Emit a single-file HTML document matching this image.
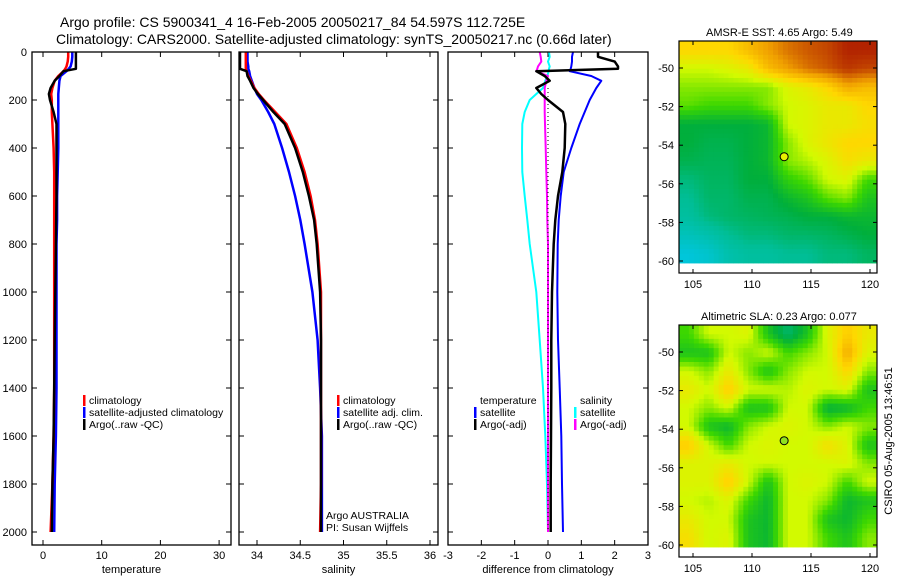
<!DOCTYPE html>
<html><head><meta charset="utf-8">
<style>
body{margin:0;background:#fff;}
svg{display:block;font-family:"Liberation Sans",sans-serif;}
</style></head>
<body>
<svg id="c" width="900" height="580" xmlns="http://www.w3.org/2000/svg">
<text x="60" y="27" font-size="14">Argo profile: CS 5900341_4 16-Feb-2005 20050217_84 54.597S 112.725E</text>
<text x="56" y="44" font-size="14">Climatology: CARS2000. Satellite-adjusted climatology: synTS_20050217.nc (0.66d later)</text>
<text x="706" y="36" font-size="11">AMSR-E SST: 4.65 Argo: 5.49</text>
<text x="701" y="320" font-size="11">Altimetric SLA: 0.23 Argo: 0.077</text>
<text transform="translate(892,441) rotate(-90)" font-size="11" text-anchor="middle">CSIRO 05-Aug-2005 13:46:51</text>
</svg>
<script>
const depths=[0,20,40,60,70,80,100,120,150,175,200,250,300,400,500,600,700,800,1000,1200,1400,1600,1800,2000];
const tempClim=[4.3,4.3,4.2,4.0,3.8,3.5,2.6,2.0,1.6,1.4,1.5,1.5,1.6,1.8,1.9,1.9,1.9,1.9,1.9,1.9,1.9,1.8,1.6,1.3];
const tempSat=[5.0,5.0,4.9,4.7,4.4,4.0,3.0,2.8,2.7,2.6,2.6,2.6,2.6,2.6,2.5,2.4,2.4,2.3,2.3,2.3,2.3,2.2,2.0,1.9];
const tempArgo=[5.6,5.6,5.6,5.6,5.6,3.5,2.8,2.0,1.3,1.0,1.2,1.8,2.3,2.3,2.3,2.3,2.25,2.2,2.1,2.0,1.9,1.8,1.6,1.5];
const salClim=[33.87,33.87,33.87,33.87,33.87,33.88,33.90,33.93,33.97,34.02,34.08,34.21,34.34,34.46,34.55,34.62,34.67,34.70,34.74,34.74,34.74,34.74,34.74,34.73];
const salSat=[33.89,33.89,33.89,33.9,33.9,33.91,33.92,33.94,33.97,34.0,34.05,34.13,34.2,34.29,34.37,34.44,34.5,34.55,34.64,34.70,34.73,34.75,34.75,34.75];
const salArgo=[33.80,33.80,33.80,33.80,33.80,33.88,33.89,33.92,33.96,34.01,34.07,34.19,34.32,34.44,34.53,34.60,34.66,34.69,34.73,34.74,34.74,34.74,34.74,34.74];
const dTempSat=[0.75,0.72,0.72,0.7,0.68,0.65,1.3,1.6,1.45,1.35,1.25,1.1,0.95,0.7,0.47,0.38,0.32,0.29,0.28,0.3,0.35,0.4,0.42,0.45];
const dTempArgo=[1.5,1.5,2.0,2.1,2.1,-0.35,-0.1,0.05,-0.35,-0.2,0.0,0.45,0.52,0.5,0.43,0.3,0.22,0.17,0.12,0.1,0.1,0.09,0.08,0.08];
const dSalSat=[0.03,0.05,0.0,0.05,0.03,0.02,-0.02,-0.08,-0.15,-0.35,-0.55,-0.7,-0.77,-0.78,-0.77,-0.7,-0.62,-0.55,-0.35,-0.25,-0.15,-0.08,-0.03,0.0];
const dSalArgo=[-0.25,-0.22,-0.2,-0.3,-0.32,-0.35,0.0,-0.05,-0.1,-0.1,-0.1,-0.1,-0.09,-0.07,-0.05,-0.03,-0.02,0.0,0.0,0.0,0.0,0.0,0.0,0.0];
const depthTicks=[0,200,400,600,800,1000,1200,1400,1600,1800,2000];
const tempTicks=[0,10,20,30];
const salTicks=[34,34.5,35,35.5,36];
const diffTicks=[-3,-2,-1,0,1,2,3];
const latTicks=[-50,-52,-54,-56,-58,-60];
const lonTicks=[105,110,115,120];
const sstGrid=[
[0.7,0.7,0.7,0.75,0.8,0.85,0.88,0.9,0.95,0.95],
[0.6,0.6,0.62,0.65,0.75,0.8,0.85,0.88,0.92,0.9],
[0.55,0.55,0.55,0.55,0.55,0.62,0.65,0.7,0.78,0.75],
[0.52,0.5,0.5,0.5,0.55,0.6,0.62,0.65,0.65,0.7],
[0.4,0.4,0.4,0.4,0.42,0.6,0.62,0.65,0.65,0.68],
[0.4,0.38,0.38,0.4,0.42,0.55,0.62,0.66,0.7,0.7],
[0.38,0.37,0.37,0.4,0.42,0.55,0.58,0.62,0.68,0.65],
[0.33,0.36,0.36,0.4,0.4,0.48,0.52,0.6,0.62,0.5],
[0.3,0.35,0.35,0.38,0.38,0.42,0.45,0.52,0.55,0.45],
[0.28,0.33,0.35,0.36,0.37,0.38,0.4,0.4,0.42,0.42],
[0.22,0.25,0.3,0.33,0.33,0.35,0.35,0.36,0.38,0.4],
[0.15,0.18,0.25,0.28,0.28,0.3,0.3,0.33,0.33,0.36]];
const slaGrid=[
[0.5,0.6,0.6,0.62,0.45,0.35,0.45,0.62,0.72,0.65],
[0.45,0.45,0.6,0.55,0.6,0.5,0.55,0.6,0.78,0.62],
[0.6,0.55,0.65,0.55,0.45,0.55,0.6,0.6,0.7,0.55],
[0.65,0.6,0.72,0.6,0.6,0.58,0.62,0.6,0.62,0.45],
[0.6,0.55,0.6,0.45,0.45,0.6,0.6,0.4,0.42,0.5],
[0.6,0.45,0.42,0.55,0.6,0.62,0.6,0.55,0.6,0.55],
[0.72,0.6,0.5,0.6,0.62,0.6,0.6,0.68,0.62,0.45],
[0.62,0.62,0.65,0.6,0.6,0.6,0.6,0.6,0.62,0.55],
[0.62,0.62,0.72,0.6,0.45,0.6,0.62,0.6,0.5,0.6],
[0.6,0.58,0.62,0.5,0.42,0.6,0.6,0.55,0.42,0.45],
[0.65,0.6,0.6,0.45,0.42,0.6,0.6,0.45,0.42,0.5],
[0.68,0.6,0.62,0.45,0.42,0.6,0.6,0.5,0.45,0.55]];
const argoLon=112.725, argoLat=-54.597;

const NS="http://www.w3.org/2000/svg";
const svg=document.getElementById('c');
function mk(tag,at,parent){const e=document.createElementNS(NS,tag);for(const k in at)e.setAttribute(k,at[k]);(parent||svg).appendChild(e);return e;}
const yD=d=>52+d*0.24;
const Y0=52,Y1=545;

function panel(name,x0,x1,xf,ticks,fmt,label,series){
  const g=mk('g',{});
  
  
  depthTicks.forEach(d=>{const y=yD(d);
    mk('line',{x1:x0,x2:x0+5,y1:y,y2:y,stroke:'#000'},g);
    mk('line',{x1:x1-5,x2:x1,y1:y,y2:y,stroke:'#000'},g);});
  ticks.forEach(v=>{const x=xf(v);
    mk('line',{x1:x,x2:x,y1:Y1,y2:Y1-5,stroke:'#000'},g);
    mk('line',{x1:x,x2:x,y1:Y0,y2:Y0+5,stroke:'#000'},g);
    const t=mk('text',{x:x,y:Y1+14,'font-size':11,'text-anchor':'middle'},g);t.textContent=fmt(v);
    
    });
  const lt=mk('text',{x:(x0+x1)/2,y:Y1+28,'font-size':11,'text-anchor':'middle'},g);lt.textContent=label;
  
  
  series.forEach(s=>{
    const pts=s.v.map((v,i)=>Math.max(x0+1,Math.min(x1-1,xf(v))).toFixed(1)+','+yD(depths[i]).toFixed(1)).join(' ');
    const l=mk('polyline',{points:pts,fill:'none',stroke:s.c,'stroke-width':s.w||2.5,'stroke-linejoin':'round'},g);
    
    
  });
  const f=mk('rect',{x:x0,y:Y0,width:x1-x0,height:Y1-Y0,fill:'none',stroke:'#000','stroke-width':1.3},g);
  
  
  return g;
}
depthTicks.forEach(d=>{const t=mk('text',{x:27,y:yD(d)+4,'font-size':11,'text-anchor':'end'});t.textContent=d;
  
  });

const xT=v=>43+v*5.87;
panel('temperature',32,231,xT,tempTicks,v=>v,'temperature',[
 {v:tempSat,c:'#0000ff',n:'temp-satellite-line'},{v:tempClim,c:'#ff0000',n:'temp-climatology-line'},{v:tempArgo,c:'#000',n:'temp-argo-line'}]);
const xS=v=>257+(v-34)*86.5;
panel('salinity',239,438,xS,salTicks,v=>v,'salinity',[
 {v:salSat,c:'#0000ff',n:'sal-satellite-line'},{v:salClim,c:'#ff0000',n:'sal-climatology-line'},{v:salArgo,c:'#000',n:'sal-argo-line'}]);
const xDf=v=>548+v*33.33;
const g3=panel('difference',448,648,xDf,diffTicks,v=>v,'difference from climatology',[
 {v:dSalSat,c:'#00ffff',n:'diff-sal-satellite-line',w:2},{v:dSalArgo,c:'#ff00ff',n:'diff-sal-argo-line',w:2},
 {v:dTempSat,c:'#0000ff',n:'diff-temp-satellite-line',w:2},{v:dTempArgo,c:'#000',n:'diff-temp-argo-line',w:2.5}]);
const zl=mk('line',{x1:xDf(0),x2:xDf(0),y1:yD(150),y2:yD(2000),stroke:'#000','stroke-dasharray':'1,3'},g3);



function legend(x,y,items,name){
  items.forEach((it,i)=>{const yy=y+i*12;
    if(it.c){const b=mk('rect',{x:x,y:yy-9,width:2.5,height:11,fill:it.c});
      
      }
    const t=mk('text',{x:x+6,y:yy,'font-size':10.5});t.textContent=it.t;
    
    });
}
legend(83,404,[{c:'#f00',t:'climatology'},{c:'#00f',t:'satellite-adjusted climatology'},{c:'#000',t:'Argo(..raw -QC)'}],'temp-legend');
legend(337,404,[{c:'#f00',t:'climatology'},{c:'#00f',t:'satellite adj. clim.'},{c:'#000',t:'Argo(..raw -QC)'}],'sal-legend');
legend(474,404,[{t:'temperature'},{c:'#00f',t:'satellite'},{c:'#000',t:'Argo(-adj)'}],'diff-temp-legend');
legend(574,404,[{t:'salinity'},{c:'#0ff',t:'satellite'},{c:'#f0f',t:'Argo(-adj)'}],'diff-sal-legend');
legend(320,519,[{t:'Argo AUSTRALIA'},{t:'PI: Susan Wijffels'}],'pi-note');

const stops=[[0.1,[0,200,240]],[0.3,[0,190,150]],[0.4,[0,175,60]],[0.5,[60,215,0]],[0.6,[210,250,0]],[0.7,[255,215,0]],[0.8,[240,160,0]],[0.9,[195,70,0]],[1.0,[160,0,0]]];
function cmap(v){if(v<=stops[0][0])return 'rgb('+stops[0][1]+')';
  for(let i=1;i<stops.length;i++){if(v<=stops[i][0]){const a=stops[i-1],b=stops[i];const t=(v-a[0])/(b[0]-a[0]);
    return 'rgb('+a[1].map((c,k)=>Math.round(c+(b[1][k]-c)*t)).join(',')+')';}}
  return 'rgb('+stops[stops.length-1][1]+')';}

function sample(grid,fy,fx){
  const rows=grid.length,cols=grid[0].length;
  const y=Math.max(0,Math.min(rows-1,fy-0.5)),x=Math.max(0,Math.min(cols-1,fx-0.5));
  const y0=Math.floor(y),x0=Math.floor(x),y1=Math.min(rows-1,y0+1),x1=Math.min(cols-1,x0+1);
  const ty=y-y0,tx=x-x0;
  return (grid[y0][x0]*(1-tx)+grid[y0][x1]*tx)*(1-ty)+(grid[y1][x0]*(1-tx)+grid[y1][x1]*tx)*ty;
}

function map(name,top,grid,dotColor,lat50,lat60){
  const bx0=679,bx1=877,by0=top,by1=top+232;
  const lonX=l=>693+(l-105)*11.8;
  const latY=l=>lat50+(-50-l)*(lat60-lat50)/10;
  const dataTop=by0,dataBot=latY(-60.1);
  const rows=grid.length,cols=grid[0].length,sub=4;
  const cw=(bx1-bx0)/(cols*sub),ch=(dataBot-dataTop)/(rows*sub);
  const g=mk('g',{});
  
  
  for(let i=0;i<rows*sub;i++)for(let j=0;j<cols*sub;j++){
    const v=sample(grid,(i+0.5)/sub,(j+0.5)/sub);
    const c=mk('rect',{x:(bx0+j*cw).toFixed(2),y:(dataTop+i*ch).toFixed(2),width:(cw+0.5).toFixed(2),height:(ch+0.5).toFixed(2),fill:cmap(v)},g);
    
    }
  const f=mk('rect',{x:bx0,y:by0,width:bx1-bx0,height:by1-by0,fill:'none',stroke:'#000','stroke-width':1.2},g);
  
  
  latTicks.forEach(l=>{const y=latY(l);
    mk('line',{x1:bx0,x2:bx0+4,y1:y,y2:y,stroke:'#000'},g);mk('line',{x1:bx1-4,x2:bx1,y1:y,y2:y,stroke:'#000'},g);
    const t=mk('text',{x:bx0-5,y:y+4,'font-size':11,'text-anchor':'end'},g);t.textContent=l;
    
    });
  lonTicks.forEach(l=>{const x=lonX(l);
    mk('line',{x1:x,x2:x,y1:by1,y2:by1-4,stroke:'#000'},g);mk('line',{x1:x,x2:x,y1:by0,y2:by0+4,stroke:'#000'},g);
    const t=mk('text',{x:x,y:by1+15,'font-size':11,'text-anchor':'middle'},g);t.textContent=l;
    
    });
  const d=mk('circle',{cx:lonX(argoLon),cy:latY(argoLat),r:4,fill:dotColor,stroke:'#000','stroke-width':1},g);
  
  
}
map('sst',41,sstGrid,'#e8f000',68,261);
map('sla',325,slaGrid,'#90e020',352,545);
</script>
</body></html>
